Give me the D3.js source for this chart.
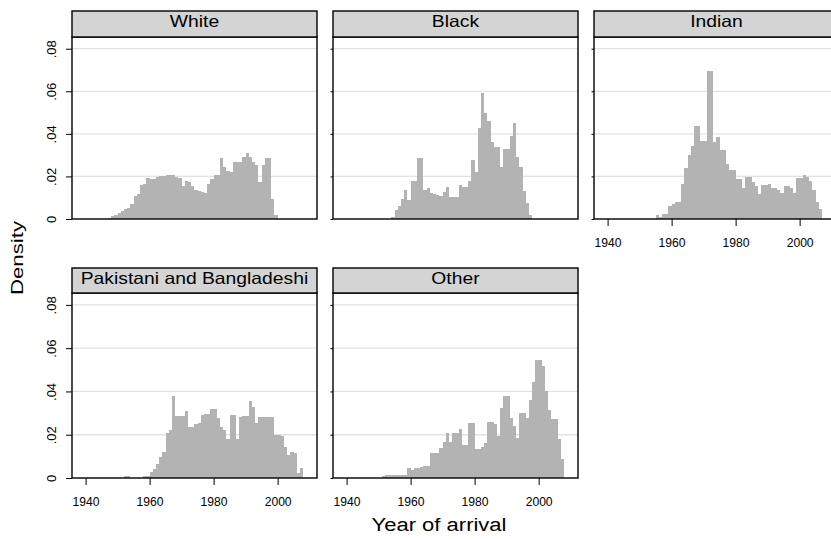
<!DOCTYPE html>
<html>
<head>
<meta charset="utf-8">
<script src="https://cdn.jsdelivr.net/npm/d3@7"></script>
<style>
body { margin: 0; background: #fff; }
svg text { font-family: "Liberation Sans", Arial, sans-serif; fill: #000; }
</style>
</head>
<body>
<div id="chart"></div>
<script>
// panel names and the first year of each histogram (bins are 1 year wide)
var groups = ["White", "Black", "Indian", "Pakistani and Bangladeshi", "Other"];
var firstYear = [1947, 1954, 1955, 1952, 1951];

// density per bin
var white = [.0005, .0013, .002, .0029, .0037, .0045, .0053, .0069, .011, .0117,
	.016, .0165, .0192, .0189, .019, .0197, .02, .0202, .0205, .0205,
	.0205, .0197, .0192, .0157, .018, .0173, .0157, .0138, .0133, .0128,
	.0122, .0165, .0189, .0205, .0205, .0288, .0245, .0224, .0221, .0269,
	.0269, .0269, .029, .0309, .0293, .0269, .0256, .0173, .0256, .0288,
	.0285, .0096, .0021];
var black = [.001, .004, .006, .0095, .0137, .009, .0178, .0178, .0286, .0286,
	.0135, .0146, .012, .0118, .0112, .0108, .0125, .0148, .0105, .0105,
	.0105, .0158, .0148, .0148, .0178, .0275, .022, .0427, .059, .050,
	.046, .036, .034, .034, .0245, .033, .033, .039, .045, .029,
	.0245, .013, .0077, .002];
var indian = [.0019, .0011, .0022, .0022, .0063, .0069, .0081, .0081, .0164, .0238,
	.030, .0344, .0436, .0436, .0366, .0366, .0695, .0695, .0362, .0386,
	.0323, .0323, .0258, .023, .023, .019, .019, .0144, .0195, .0195,
	.0175, .0155, .0116, .0159, .0159, .0164, .0144, .0144, .0136, .012,
	.0155, .0155, .0147, .0123, .0194, .0194, .0206, .0195, .018, .0136,
	.0081, .0047];
var pakbang = [.0011, .0011, 0, 0, 0, 0, .0008, .0008, .0027, .004,
	.0063, .0098, .012, .021, .0223, .038, .0286, .0286, .0286, .0308,
	.0234, .0234, .025, .0255, .0292, .0297, .0297, .0317, .0317, .0277,
	.0238, .022, .0178, .0289, .0292, .0179, .0281, .0286, .0286, .0356,
	.0328, .0252, .0283, .0283, .0283, .0283, .0283, .0199, .0199, .0192,
	.0142, .0108, .012, .0115, .0025, .0047];
var other = [.0009, .0012, .0012, .0012, .0012, .0012, .0012, .0012, .0045, .0037,
	.0045, .0045, .0053, .0056, .0056, .0114, .0114, .0114, .0137, .0168,
	.021, .0168, .0207, .0207, .0227, .0153, .0153, .0256, .0256, .0133,
	.0133, .0145, .0161, .0261, .0261, .025, .0195, .0323, .0381, .0381,
	.0276, .0241, .0184, .03, .03, .0276, .0361, .0442, .0547, .0547,
	.0519, .04, .0315, .0272, .0272, .0179, .0086];
var densities = [white, black, indian, pakbang, other];

var yTicks = [0, .02, .04, .06, .08];
var yTickLabels = ["0", ".02", ".04", ".06", ".08"];
var xTicks = [1940, 1960, 1980, 2000];

var width = 831,
	height = 539,
	panelW = 245;

var colLeft = [72, 333, 594];
var rows = [
	{ strip: 11, top: 37, bottom: 219 },
	{ strip: 268, top: 293, bottom: 478 }
];

var svg = d3.select("#chart")
	.append("svg")
	.attr("width", width)
	.attr("height", height);

groups.forEach(function(name, gi) {
	var col = gi % 3,
		row = rows[Math.floor(gi / 3)],
		left = colLeft[col];

	var x = d3.scaleLinear()
		.domain([1935.75, 2012.3])
		.range([left, left + panelW]);

	var y = d3.scaleLinear()
		.domain([0, 0.0855])
		.range([row.bottom, row.top]);

	var bins = densities[gi].map(function(v, i) {
		return { year: firstYear[gi] + i, value: v };
	});

	var g = svg.append("g").attr("class", "panel");

	// grid lines
	g.selectAll("line.grid")
		.data(yTicks.slice(1))
		.enter().append("line")
		.attr("class", "grid")
		.attr("x1", left)
		.attr("x2", left + panelW)
		.attr("y1", function(d) { return y(d); })
		.attr("y2", function(d) { return y(d); })
		.style("stroke", "#e2e2e2")
		.style("stroke-width", 1.3);

	// bars
	g.selectAll("rect.bar")
		.data(bins)
		.enter().append("rect")
		.attr("class", "bar")
		.attr("x", function(d) { return x(d.year); })
		.attr("width", function(d) { return x(d.year + 1) - x(d.year); })
		.attr("y", function(d) { return y(d.value); })
		.attr("height", function(d) { return y(0) - y(d.value); })
		.attr("shape-rendering", "crispEdges")
		.style("fill", "#b3b3b3");

	// y axis: labels only on the left column
	var yAxis = d3.axisLeft(y)
		.tickValues(yTicks)
		.tickSize(col == 0 ? 6 : 2.5)
		.tickFormat(function(d, i) { return col == 0 ? yTickLabels[i] : ""; });

	var ya = g.append("g")
		.attr("transform", "translate(" + left + ",0)")
		.call(yAxis);
	ya.select(".domain").remove();
	ya.selectAll("line").style("stroke", "#000");
	ya.selectAll("text")
		.attr("x", null)
		.attr("dy", null)
		.attr("transform", "translate(-16,0) rotate(-90)")
		.style("text-anchor", "middle")
		.style("font-size", "13px")
		.style("font-family", "'Liberation Sans', Arial, sans-serif");

	// x axis on panels with nothing under them
	if (gi >= 2) {
		var xa = g.append("g")
			.attr("transform", "translate(0," + row.bottom + ")")
			.call(d3.axisBottom(x).tickValues(xTicks).tickSize(7).tickFormat(d3.format("d")));
		xa.select(".domain").remove();
		xa.selectAll("line").style("stroke", "#000");
		xa.selectAll("text")
			.attr("y", 27.5)
			.attr("dy", null)
			.attr("textLength", 27)
			.attr("lengthAdjust", "spacingAndGlyphs")
			.style("font-size", "13.5px")
			.style("font-family", "'Liberation Sans', Arial, sans-serif");
	}

	// plot frame
	g.append("rect")
		.attr("x", left)
		.attr("y", row.top)
		.attr("width", panelW)
		.attr("height", row.bottom - row.top)
		.style("fill", "none")
		.style("stroke", "#000")
		.style("stroke-width", 1.4);

	// strip with group name
	g.append("rect")
		.attr("x", left)
		.attr("y", row.strip)
		.attr("width", panelW)
		.attr("height", row.top - row.strip)
		.style("fill", "#d4d4d4")
		.style("stroke", "#000")
		.style("stroke-width", 1.4);

	var title = g.append("text")
		.attr("x", left + panelW / 2)
		.attr("y", row.strip + 15.5)
		.style("text-anchor", "middle")
		.style("font-size", "16.5px")
		.text(name);
	title.attr("textLength", title.node().getComputedTextLength() * 1.17)
		.attr("lengthAdjust", "spacingAndGlyphs");
});

// axis titles
svg.append("text")
	.attr("transform", "translate(23,258) rotate(-90)")
	.style("text-anchor", "middle")
	.style("font-size", "17px")
	.attr("textLength", 74)
	.attr("lengthAdjust", "spacingAndGlyphs")
	.text("Density");

svg.append("text")
	.attr("x", 439)
	.attr("y", 531)
	.style("text-anchor", "middle")
	.style("font-size", "18px")
	.attr("textLength", 135)
	.attr("lengthAdjust", "spacingAndGlyphs")
	.text("Year of arrival");
</script>
</body>
</html>
